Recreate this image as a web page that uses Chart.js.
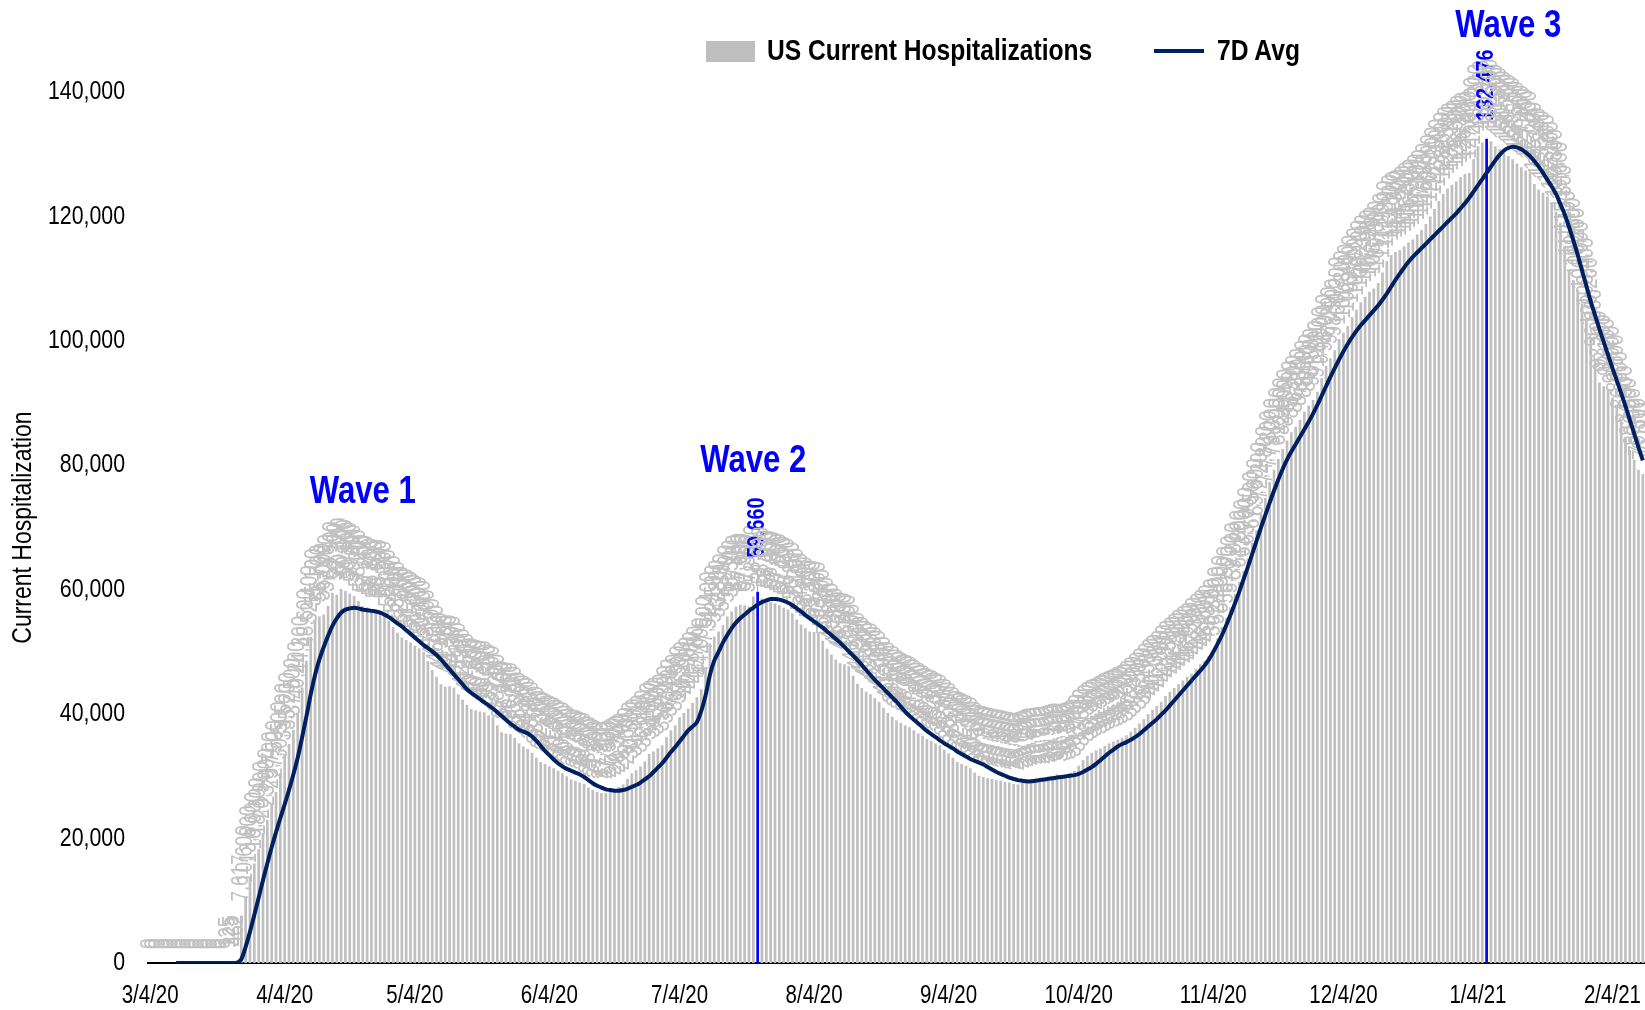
<!DOCTYPE html>
<html>
<head>
<meta charset="utf-8">
<script src="https://cdn.jsdelivr.net/npm/chart.js@4.4.1/dist/chart.umd.min.js"></script>
<style>
  body { margin: 0; background: #fff; }
  #wrap { position: relative; width: 1645px; height: 1010px; }
  .lg { position: absolute; }
  .lg-text {
    top: 33px; line-height: 36px; white-space: nowrap; transform: scaleX(0.82); transform-origin: left center;
    font: bold 30px "Liberation Sans", Arial, sans-serif; color: #000;
  }
</style>
</head>
<body>
<div id="wrap">
  <canvas id="hospChart"></canvas>
  <span class="lg" style="left:706px; top:41px; width:49px; height:21px; background:#bfbfbf"></span>
  <span class="lg lg-text" style="left:767px">US Current Hospitalizations</span>
  <span class="lg" style="left:1154px; top:49px; width:50px; height:4px; background:#002060"></span>
  <span class="lg lg-text" style="left:1217px">7D Avg</span>
</div>
<script>
const FONT = '"Liberation Sans", Arial, sans-serif'
const NARROW = 0.82 // squeeze Liberation Sans to an Arial Narrow width

// daily US current hospitalizations, starting 3/4/20
const hospitalized = [
  0, 0, 0, 0, 0, 0, 0, 0, 0, 0,
  0, 0, 0, 0, 0, 0, 0, 0, 125, 325,
  462, 7617, 10600, 13800, 16000, 18300, 20900, 23000, 25700, 27500,
  30500, 33500, 35200, 37500, 40200, 44300, 48600, 52400, 55100, 55700,
  56000, 57400, 59500, 59200, 60100, 59800, 59400, 59000, 58200, 57400,
  57200, 56800, 56400, 56600, 56300, 55000, 54000, 53100, 52300, 51900,
  51500, 51000, 50600, 50000, 48500, 47100, 46000, 44800, 44400, 44500,
  44300, 43200, 42300, 41500, 40800, 40600, 40400, 40300, 39800, 39500,
  38200, 37100, 36900, 36800, 36200, 35300, 34800, 34400, 33800, 33000,
  32300, 32000, 31600, 31300, 30900, 30500, 30000, 29500, 29300, 29000,
  28800, 28200, 27800, 27500, 27300, 27300, 27500, 27900, 28300, 28700,
  29600, 30500, 31000, 31600, 32400, 33600, 34000, 34500, 35000, 36300,
  37400, 38200, 39500, 40200, 40900, 41800, 42700, 44000, 47500, 51400,
  52500, 53300, 54300, 55700, 56500, 57300, 57600, 57500, 57300, 58900,
  59660, 58600, 58100, 58000, 57800, 57500, 57100, 56800, 56200, 55200,
  54400, 53800, 53300, 53200, 53000, 51800, 50500, 49600, 48800, 48200,
  48000, 47700, 46200, 44900, 44200, 43600, 43200, 42600, 42000, 41000,
  40200, 39600, 39000, 38600, 38200, 37900, 37400, 36900, 36500, 36000,
  35700, 35300, 35000, 34300, 33700, 33000, 32300, 32000, 31700, 31300,
  30600, 30100, 29900, 29700, 29600, 29400, 29300, 29100, 29000, 28800,
  28700, 29000, 29200, 29500, 29600, 29700, 29700, 29900, 30100, 30300,
  30100, 30300, 30500, 30900, 31700, 32600, 33300, 33800, 34200, 34500,
  34900, 35300, 35600, 35900, 36200, 36600, 37200, 37800, 38500, 39200,
  40000, 40700, 41300, 42000, 42900, 43600, 44200, 44800, 45400, 46000,
  46500, 47300, 48000, 48600, 49300, 50300, 52200, 54000, 55500, 57200,
  59300, 61300, 63000, 65000, 67500, 69600, 72200, 74800, 77300, 79300,
  81000, 82600, 84000, 85300, 86200, 87300, 88600, 89600, 90500, 91800,
  94000, 96000, 97200, 98500, 100300, 101300, 102400, 103800, 105000, 106200,
  107100, 107900, 108400, 109300, 111000, 112800, 113800, 114300, 114600, 115200,
  115800, 116300, 117100, 117800, 118800, 120000, 121200, 122500, 123600, 124500,
  125100, 125600, 126300, 126800, 127000, 129200, 131300, 131900, 132476, 132100,
  131300, 130800, 130200, 129700, 129200, 128500, 127900, 127400, 127000, 125200,
  124300, 123800, 123200, 122100, 120800, 119000, 115300, 111400, 109800, 108200,
  106000, 103400, 100200, 96800, 93300, 92700, 92100, 90900, 89500, 86800,
  84500, 82500, 80900, 79300, 78600
]

// 7 day average line, same days
const avg7 = [
  null, null, null, null, null, null, 0, 0, 0, 0,
  0, 0, 0, 0, 0, 0, 0, 0, 0, 0,
  0, 600, 2600, 5000, 7700, 10500, 13300, 16000, 18600, 21000,
  23300, 25500, 27800, 30300, 33000, 36200, 39600, 43200, 46300, 48800,
  50800, 52600, 54200, 55400, 56300, 56800, 57000, 57100, 57000, 56800,
  56700, 56600, 56500, 56300, 56000, 55600, 55100, 54600, 54100, 53500,
  52900, 52300, 51700, 51100, 50600, 50100, 49500, 48800, 48000, 47200,
  46400, 45600, 44800, 44000, 43400, 42900, 42400, 41900, 41400, 40900,
  40300, 39700, 39100, 38500, 38000, 37500, 37200, 36900, 36400, 35700,
  34900, 34100, 33400, 32700, 32100, 31600, 31200, 30900, 30600, 30300,
  29900, 29400, 28900, 28500, 28200, 27900, 27800, 27700, 27700, 27800,
  28000, 28300, 28600, 29000, 29500, 30000, 30700, 31400, 32100, 33000,
  33900, 34700, 35600, 36500, 37400, 38000, 38700, 40500, 43000, 46300,
  48600, 50000, 51500, 52700, 53800, 54700, 55400, 56000, 56600, 57100,
  57600, 58000, 58300, 58500, 58500, 58400, 58200, 57900, 57500, 57000,
  56500, 55900, 55400, 54900, 54400, 53900, 53300, 52700, 52100, 51500,
  50800, 50100, 49400, 48700, 47900, 47100, 46300, 45500, 44800, 44100,
  43400, 42700, 42000, 41200, 40400, 39700, 39100, 38500, 37900, 37300,
  36800, 36300, 35800, 35300, 34900, 34500, 34000, 33600, 33200, 32800,
  32500, 32200, 31900, 31500, 31100, 30700, 30400, 30100, 29800, 29600,
  29400, 29300, 29200, 29200, 29300, 29400, 29500, 29600, 29700, 29800,
  29900, 30000, 30100, 30200, 30400, 30700, 31100, 31500, 32000, 32600,
  33200, 33800, 34300, 34800, 35200, 35500, 35900, 36300, 36800, 37400,
  38000, 38600, 39200, 39900, 40600, 41400, 42200, 43000, 43800, 44600,
  45400, 46200, 47000, 47800, 48800, 50000, 51300, 52700, 54300, 56000,
  57800, 59700, 61700, 63700, 65800, 67900, 70000, 72000, 74000, 75900,
  77700, 79400, 80900, 82200, 83400, 84600, 85800, 87000, 88300, 89700,
  91200, 92700, 94200, 95600, 97000, 98300, 99500, 100600, 101600, 102500,
  103300, 104100, 104900, 105700, 106600, 107600, 108700, 109800, 110800, 111800,
  112700, 113500, 114200, 114900, 115600, 116300, 117000, 117700, 118400, 119100,
  119800, 120500, 121300, 122100, 123000, 124000, 125000, 126000, 127000, 128000,
  129000, 129900, 130600, 131000, 131200, 131100, 130800, 130300, 129700, 128900,
  128000, 127000, 125900, 124800, 123600, 122000, 120300, 118300, 116100, 113800,
  111300, 108800, 106300, 104100, 101900, 99800, 97700, 95600, 93600, 91600,
  89500, 87300, 85100, 82900, 80800
]

const tickDates = ['3/4/20', '4/4/20', '5/4/20', '6/4/20', '7/4/20', '8/4/20',
  '9/4/20', '10/4/20', '11/4/20', '12/4/20', '1/4/21', '2/4/21']

// highlighted peak bars (label lifted higher on wave 2, with a leader line)
const peaks = [
  {date: '7/22/20', lift: 34, leader: true},
  {date: '1/6/21', lift: 18, leader: false},
]

const waves = [
  {text: 'Wave 1', date: '4/22/20', value: 75600},
  {text: 'Wave 2', date: '7/21/20', value: 80600},
  {text: 'Wave 3', date: '1/11/21', value: 150600},
]

const dates = hospitalized.map((v, i) => {
  const d = new Date(2020, 2, 4 + i)
  return `${d.getMonth() + 1}/${d.getDate()}/${String(d.getFullYear()).slice(2)}`
})
const peakAt = i => peaks.find(p => p.date === dates[i])

function narrowText(ctx, text, x, y, font, color, align = 'center', angle = 0) {
  ctx.save()
  ctx.translate(x, y)
  ctx.rotate(angle)
  ctx.scale(NARROW, 1)
  ctx.font = font
  ctx.fillStyle = color
  ctx.textAlign = align
  ctx.textBaseline = 'middle'
  ctx.fillText(text, 0, 0)
  ctx.restore()
}

const barLabels = {
  id: 'barLabels',
  afterDatasetDraw(chart, args) {
    if (args.index !== 0) return
    const ctx = chart.ctx
    args.meta.data.forEach((bar, i) => {
      const peak = peakAt(i)
      const lift = peak ? peak.lift : 14
      if (peak && peak.leader) {
        ctx.save()
        ctx.strokeStyle = '#a6a6a6'
        ctx.lineWidth = 1
        ctx.beginPath()
        ctx.moveTo(bar.x, bar.y)
        ctx.lineTo(bar.x, bar.y - lift + 12)
        ctx.stroke()
        ctx.restore()
      }
      narrowText(ctx, hospitalized[i].toLocaleString('en-US'), bar.x, bar.y - lift,
        peak ? `bold 24px ${FONT}` : `23px ${FONT}`, peak ? '#0000ff' : '#c0c0c0', 'left', -Math.PI / 2)
    })
  }
}

// axis texts and wave notes, drawn narrow like the original Arial Narrow
const axisText = {
  id: 'axisText',
  afterDraw(chart) {
    const {ctx, chartArea, scales: {x, y}} = chart
    y.ticks.forEach(t => {
      narrowText(ctx, t.value.toLocaleString('en-US'), 125, y.getPixelForValue(t.value), `26px ${FONT}`, '#000', 'right')
    })
    tickDates.forEach(d => {
      narrowText(ctx, d, x.getPixelForValue(dates.indexOf(d)), chartArea.bottom + 33, `25px ${FONT}`, '#000')
    })
    narrowText(ctx, 'Current Hospitalization', 23, (chartArea.top + chartArea.bottom) / 2, `28px ${FONT}`, '#000', 'center', -Math.PI / 2)
    waves.forEach(w => {
      narrowText(ctx, w.text, x.getPixelForValue(dates.indexOf(w.date)), y.getPixelForValue(w.value), `bold 38px ${FONT}`, '#0000ff')
    })
  }
}

new Chart('hospChart', {
  type: 'bar',
  data: {
    labels: dates,
    datasets: [
      {
        type: 'bar',
        label: 'US Current Hospitalizations',
        data: hospitalized,
        backgroundColor: c => (peakAt(c.dataIndex) ? '#0000ff' : '#bfbfbf'),
        barPercentage: 0.62,
        categoryPercentage: 1,
        order: 2,
      },
      {
        type: 'line',
        label: '7D Avg',
        data: avg7,
        borderColor: '#002060',
        borderWidth: 4,
        pointRadius: 0,
        tension: 0.3,
        order: 1,
      },
    ],
  },
  options: {
    responsive: true,
    maintainAspectRatio: false,
    animation: false,
    layout: {padding: {top: 92, left: 148, right: 0, bottom: 47}},
    plugins: {legend: {display: false}, tooltip: {enabled: false}},
    scales: {
      x: {
        grid: {display: false, drawTicks: false},
        border: {color: '#000', width: 2},
        ticks: {display: false},
      },
      y: {
        min: 0,
        max: 140000,
        grid: {display: false, drawTicks: false},
        border: {display: false},
        ticks: {display: false, stepSize: 20000},
      },
    },
  },
  plugins: [barLabels, axisText],
})
</script>
</body>
</html>
